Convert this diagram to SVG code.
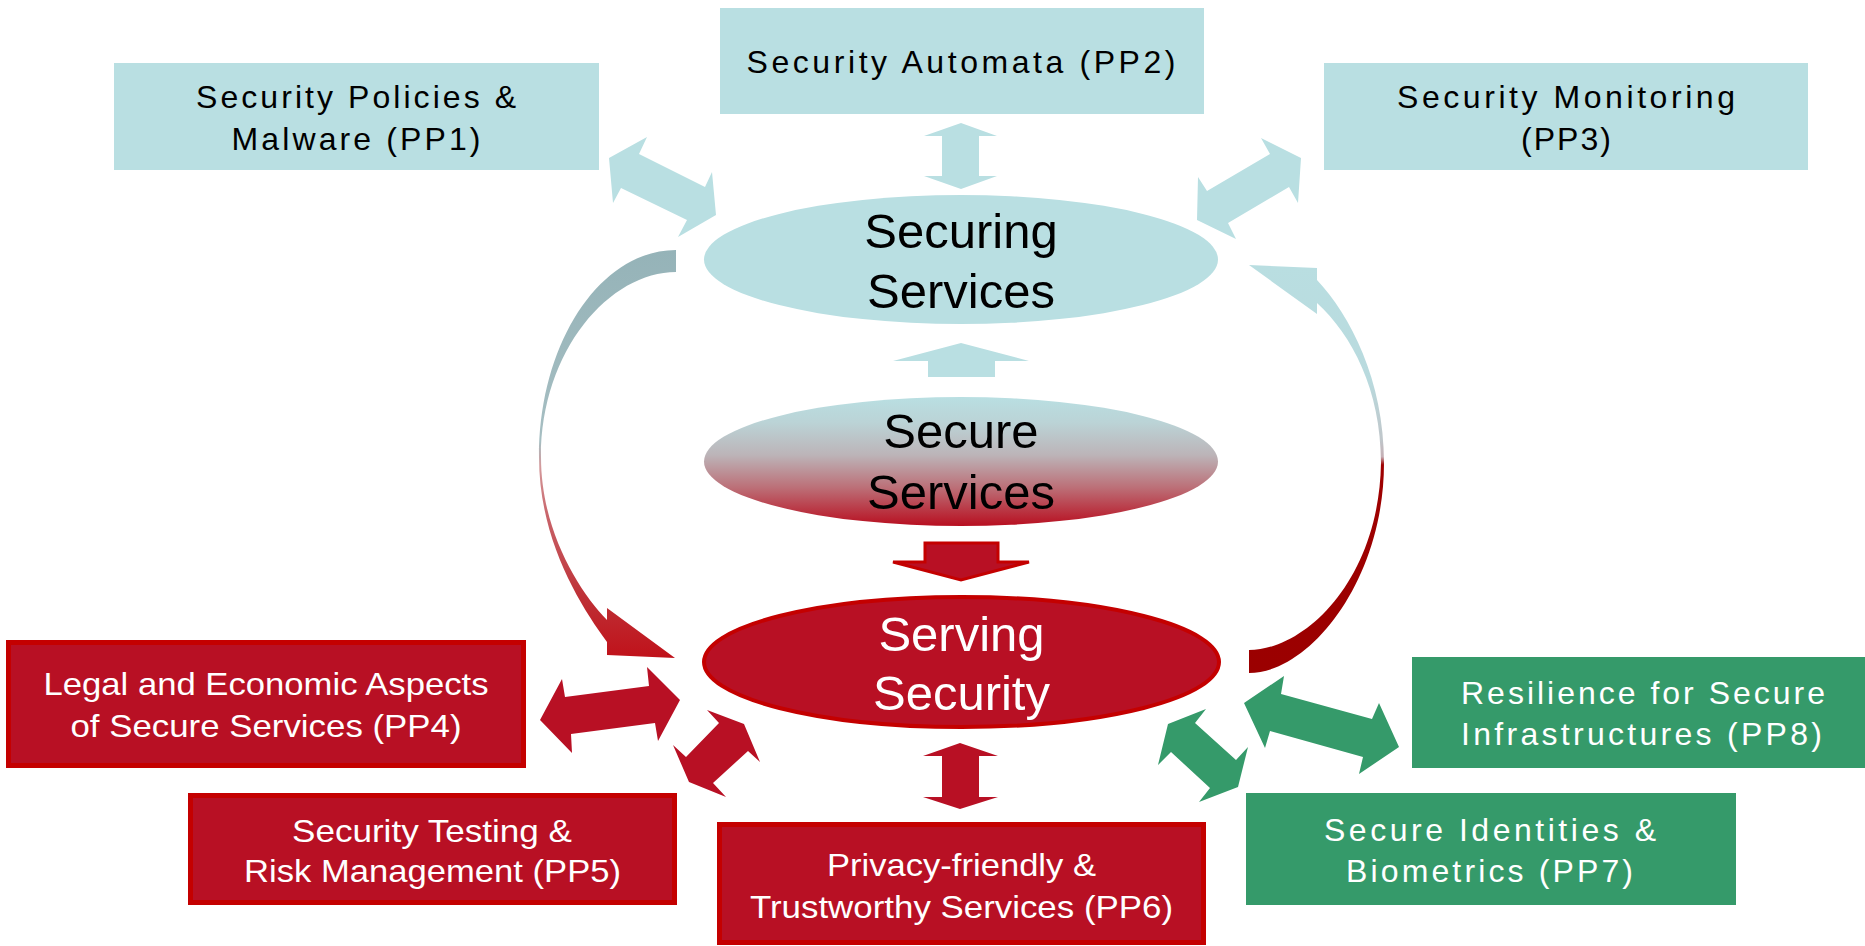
<svg xmlns="http://www.w3.org/2000/svg" width="1865" height="946" viewBox="0 0 1865 946">
  <style>
    .teal { fill: #B9DFE2; }
    .red-box { fill: #B81024; stroke: #C40000; stroke-width: 5; }
    .red-fill { fill: #B81024; }
    .green { fill: #359A6A; }
    .lbl { font-family: "Liberation Sans", Arial, sans-serif; font-size: 32px; text-anchor: middle; }
    .dark { fill: #000000; }
    .light { fill: #FFFFFF; }
    .big { font-family: "Liberation Sans", Arial, sans-serif; font-size: 49px; text-anchor: middle; }
  </style>
  <defs>
    <linearGradient id="gradSecure" x1="0" y1="0" x2="0" y2="1">
      <stop offset="0" stop-color="#B9DFE2"/>
      <stop offset="0.2" stop-color="#BBD3D6"/>
      <stop offset="0.45" stop-color="#BCB4B8"/>
      <stop offset="0.7" stop-color="#BC7078"/>
      <stop offset="1" stop-color="#B80F20"/>
    </linearGradient>
    <linearGradient id="gradLeftCurve" gradientUnits="userSpaceOnUse" x1="0" y1="250" x2="0" y2="658">
      <stop offset="0" stop-color="#95B3B8"/>
      <stop offset="0.47" stop-color="#A6BEC2"/>
      <stop offset="0.53" stop-color="#D49A9C"/>
      <stop offset="0.65" stop-color="#C8646A"/>
      <stop offset="0.85" stop-color="#BE3036"/>
      <stop offset="1" stop-color="#C0121A"/>
    </linearGradient>
    <linearGradient id="gradRightCurve" gradientUnits="userSpaceOnUse" x1="0" y1="265" x2="0" y2="673">
      <stop offset="0" stop-color="#B9DEE1"/>
      <stop offset="0.28" stop-color="#B9DADE"/>
      <stop offset="0.43" stop-color="#C0C6CA"/>
      <stop offset="0.47" stop-color="#C4AEB4"/>
      <stop offset="0.49" stop-color="#9E0000"/>
      <stop offset="1" stop-color="#9B0000"/>
    </linearGradient>
  </defs>

  <!-- connectors -->
  <g id="connectors">
    <!-- PP1 <-> Securing Services -->
    <polygon class="teal" points="609,158 647,137 639,154 705,187 712,172 716,215 678,237 687,220 621,188 613,203"/>
    <!-- PP2 <-> Securing Services -->
    <polygon class="teal" points="961,123 997,136 979,136 979,176 997,176 961,189 924,176 942,176 942,136 924,136"/>
    <!-- PP3 <-> Securing Services -->
    <polygon class="teal" points="1301,158 1298,203 1289,187 1228,223 1236,239 1197,220 1198,177 1207,191 1270,154 1261,138"/>
    <!-- Secure Services -> Securing Services -->
    <polygon class="teal" points="961,343 1029,361 995,361 995,377 928,377 928,361 893,361"/>
    <!-- Secure Services -> Serving Security -->
    <polygon fill="#B81024" stroke="#C40000" stroke-width="3" stroke-linejoin="miter" points="925,543 998,543 998,562 1029,562 961,580 893,562 925,562"/>
    <!-- Securing Services -> Serving Security (left loop) -->
    <path fill="url(#gradLeftCurve)" d="M676,250 C600,250 539,343 539,457 C539,540 580,605 607,642 L607,655 L675,658 L607,608 L607,620 C578,590 541,530 541,457 C541,350 610,272 676,272 Z"/>
    <!-- Serving Security -> Securing Services (right loop) -->
    <path fill="url(#gradRightCurve)" d="M1317,280 C1350,315 1384,380 1384,463 C1384,580 1310,673 1249,673 L1249,650 C1305,650 1379,580 1381,463 C1381,390 1352,335 1317,303 L1317,314 L1249,265 L1317,268 Z"/>
    <!-- PP4 <-> Serving Security -->
    <polygon class="red-fill" points="540,720 562,679 565,697 649,686 647,667 680,700 658,741 655,723 571,734 572,753"/>
    <!-- PP5 <-> Serving Security -->
    <polygon class="red-fill" points="744,724 760,762 748,751 713,783 726,797 689,782 673,745 686,757 719,723 707,710"/>
    <!-- PP6 <-> Serving Security -->
    <polygon class="red-fill" points="960,743 998,756 979,756 979,797 998,797 960,809 923,797 942,797 942,756 923,756"/>
    <!-- PP7 <-> Serving Security -->
    <polygon class="green" points="1168,724 1206,709 1195,723 1236,760 1248,747 1238,787 1199,802 1210,788 1171,752 1158,765"/>
    <!-- PP8 <-> Serving Security -->
    <polygon class="green" points="1244,703 1284,676 1281,694 1372,719 1379,703 1399,747 1359,774 1363,757 1270,731 1265,748"/>
  </g>

  <!-- central ellipses -->
  <g id="securing-services">
    <ellipse class="teal" cx="961" cy="259.5" rx="257" ry="64.5"/>
    <text class="big dark" x="961" y="248">Securing</text>
    <text class="big dark" x="961" y="308">Services</text>
  </g>
  <g id="secure-services">
    <ellipse fill="url(#gradSecure)" cx="961" cy="461.5" rx="257" ry="64.5"/>
    <text class="big dark" x="961" y="448">Secure</text>
    <text class="big dark" x="961" y="509">Services</text>
  </g>
  <g id="serving-security">
    <ellipse fill="#B81024" stroke="#C40000" stroke-width="4" cx="961.5" cy="662" rx="257.5" ry="65"/>
    <text class="big light" x="961.5" y="651">Serving</text>
    <text class="big light" x="961.5" y="710">Security</text>
  </g>

  <!-- research areas -->
  <g id="pp1">
    <rect class="teal" x="114" y="63" width="485" height="107"/>
    <text class="lbl dark" x="356" y="108" textLength="320" lengthAdjust="spacing">Security Policies &amp;</text>
    <text class="lbl dark" x="356" y="150" textLength="249" lengthAdjust="spacing">Malware (PP1)</text>
  </g>
  <g id="pp2">
    <rect class="teal" x="720" y="8" width="484" height="106"/>
    <text class="lbl dark" x="961" y="73" textLength="429" lengthAdjust="spacing">Security Automata (PP2)</text>
  </g>
  <g id="pp3">
    <rect class="teal" x="1324" y="63" width="484" height="107"/>
    <text class="lbl dark" x="1566" y="108" textLength="338" lengthAdjust="spacing">Security Monitoring</text>
    <text class="lbl dark" x="1566" y="150" textLength="90" lengthAdjust="spacing">(PP3)</text>
  </g>
  <g id="pp4">
    <rect class="red-box" x="8.5" y="642.5" width="515" height="123"/>
    <text class="lbl light" x="266" y="695" textLength="445" lengthAdjust="spacingAndGlyphs">Legal and Economic Aspects</text>
    <text class="lbl light" x="266" y="737" textLength="391" lengthAdjust="spacingAndGlyphs">of Secure Services (PP4)</text>
  </g>
  <g id="pp5">
    <rect class="red-box" x="190.5" y="795.5" width="484" height="107"/>
    <text class="lbl light" x="432" y="842" textLength="280" lengthAdjust="spacingAndGlyphs">Security Testing &amp;</text>
    <text class="lbl light" x="432.5" y="882" textLength="377" lengthAdjust="spacingAndGlyphs">Risk Management (PP5)</text>
  </g>
  <g id="pp6">
    <rect class="red-box" x="719.5" y="824.5" width="484" height="118"/>
    <text class="lbl light" x="961.5" y="876" textLength="269" lengthAdjust="spacingAndGlyphs">Privacy-friendly &amp;</text>
    <text class="lbl light" x="961.5" y="918" textLength="423" lengthAdjust="spacingAndGlyphs">Trustworthy Services (PP6)</text>
  </g>
  <g id="pp7">
    <rect class="green" x="1246" y="793" width="490" height="112"/>
    <text class="lbl light" x="1490" y="841" textLength="332" lengthAdjust="spacing">Secure Identities &amp;</text>
    <text class="lbl light" x="1489.5" y="882" textLength="287" lengthAdjust="spacing">Biometrics (PP7)</text>
  </g>
  <g id="pp8">
    <rect class="green" x="1412" y="657" width="455" height="111"/>
    <text class="lbl light" x="1643" y="704" textLength="364" lengthAdjust="spacing">Resilience for Secure</text>
    <text class="lbl light" x="1641.5" y="745" textLength="361" lengthAdjust="spacing">Infrastructures (PP8)</text>
  </g>
</svg>
